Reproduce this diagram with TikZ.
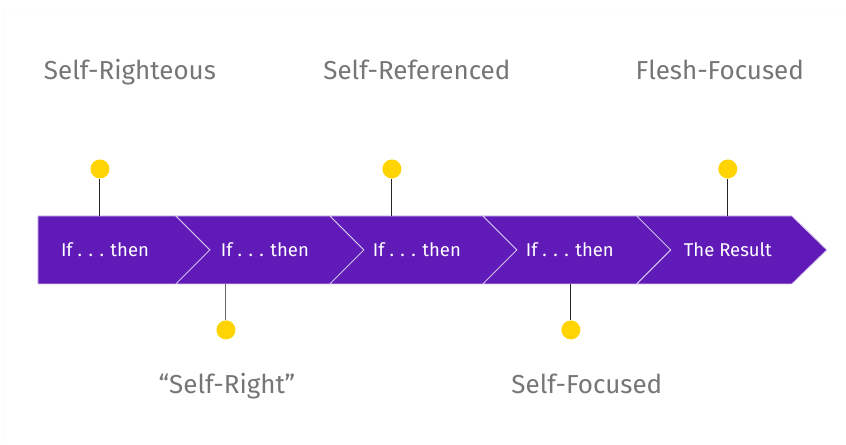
\documentclass[tikz,border=0pt]{standalone}
\usepackage{fontspec}
\setmainfont{Fira Sans}
\definecolor{bandpurple}{RGB}{96,26,184}
\definecolor{dotyellow}{RGB}{255,212,0}
\definecolor{labelgray}{RGB}{118,118,118}
\definecolor{edgelilac}{RGB}{214,196,238}

\begin{document}
\begin{tikzpicture}[x=1pt,y=-1pt,
    segment/.style={fill=bandpurple,draw=edgelilac,line width=0.8pt,line join=miter},
    stagetext/.style={text=white,anchor=base,font=\fontsize{18.5}{22}\selectfont},
    yellow dot/.style={circle,fill=dotyellow,inner sep=0pt,minimum size=19pt},
    stem/.style={line width=1pt,black!85},
    labeltext/.style={text=labelgray,anchor=base,font=\fontsize{26}{30}\selectfont}]

    % page
    \fill[white] (0,0) rectangle (846,444);
    \draw[black!4,rounded corners=5pt] (3,444) -- (3,10) -- (846,10);

    % chevron band
    \draw[segment] (38,216) -- (176,216) -- (210,250) -- (176,284) -- (38,284) -- cycle;
    \draw[segment] (176,216) -- (330,216) -- (364,250) -- (330,284) -- (176,284) -- (210,250) -- cycle;
    \draw[segment] (330,216) -- (483,216) -- (517,250) -- (483,284) -- (330,284) -- (364,250) -- cycle;
    \draw[segment] (483,216) -- (637,216) -- (671,250) -- (637,284) -- (483,284) -- (517,250) -- cycle;
    \draw[segment] (637,216) -- (792,216) -- (827,250) -- (792,284) -- (637,284) -- (671,250) -- cycle;

    \node[stagetext] (s1) at (105,257) {If . . . then};
    \node[stagetext] (s2) at (265,257) {If . . . then};
    \node[stagetext] (s3) at (417,257) {If . . . then};
    \node[stagetext] (s4) at (570,257) {If . . . then};
    \node[stagetext] (s5) at (728,257) {The Result};

    % markers
    \node[yellow dot] (d1) at (100,169) {};
    \node[yellow dot] (d2) at (226,330) {};
    \node[yellow dot] (d3) at (392,169) {};
    \node[yellow dot] (d4) at (571,330) {};
    \node[yellow dot] (d5) at (728,169) {};

    \coordinate (e1) at (100,216);
    \coordinate (e2) at (226,284);
    \coordinate (e3) at (392,216);
    \coordinate (e4) at (571,284);
    \coordinate (e5) at (728,216);

    \draw[stem] (d1) -- (e1);
    \draw[stem,black!60] (d2) -- (e2);
    \draw[stem] (d3) -- (e3);
    \draw[stem] (d4) -- (e4);
    \draw[stem] (d5) -- (e5);

    % labels
    \node[labeltext] (l1) at (130,80) {Self-Righteous};
    \node[labeltext] (l2) at (227,394) {“Self-Right”};
    \node[labeltext] (l3) at (417,80) {Self-Referenced};
    \node[labeltext] (l4) at (587,394) {Self-Focused};
    \node[labeltext] (l5) at (720,80) {Flesh-Focused};
\end{tikzpicture}
\end{document}
